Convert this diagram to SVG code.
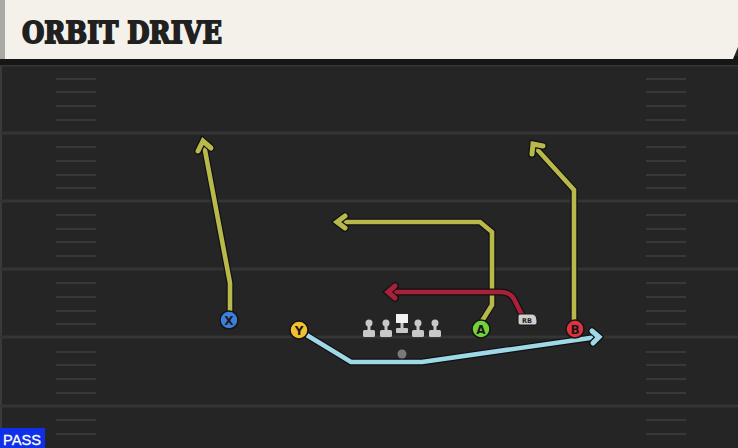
<svg xmlns="http://www.w3.org/2000/svg" width="738" height="448" viewBox="0 0 738 448">
<style>
.yard{stroke:#353535;stroke-width:3}
.hash{stroke:#383838;stroke-width:2}
.out{fill:none;stroke:#111;stroke-width:7;stroke-linejoin:miter;stroke-linecap:butt}
.rt{fill:none;stroke-width:4.6;stroke-linejoin:miter;stroke-linecap:butt}
.ho{fill:none;stroke:#111;stroke-width:7.5;stroke-linejoin:miter;stroke-linecap:round}
.hd{fill:none;stroke-width:5;stroke-linejoin:miter;stroke-linecap:round}
.yel{stroke:#b9b84a}
.red{stroke:#a8213a}
.blu{stroke:#9fd8e6}
.pc{stroke:#151515;stroke-width:1.5}
.pl{font-family:"DejaVu Sans",sans-serif;font-weight:bold;font-size:12px;fill:#1a1a1a;text-anchor:middle}
.ol{fill:#c8c8c8}
</style>
<rect x="0" y="0" width="738" height="448" fill="#252525"/>
<rect x="0" y="0" width="2" height="448" fill="#3a3a3a"/>
<g id="field">
<line class="yard" x1="0" y1="65" x2="738" y2="65"/>
<line class="yard" x1="0" y1="133" x2="738" y2="133"/>
<line class="yard" x1="0" y1="201" x2="738" y2="201"/>
<line class="yard" x1="0" y1="269" x2="738" y2="269"/>
<line class="yard" x1="0" y1="337" x2="738" y2="337"/>
<line class="yard" x1="0" y1="406" x2="738" y2="406"/>
<g id="hashL">
<line class="hash" x1="56" y1="79" x2="96" y2="79"/>
<line class="hash" x1="56" y1="92" x2="96" y2="92"/>
<line class="hash" x1="56" y1="106" x2="96" y2="106"/>
<line class="hash" x1="56" y1="120" x2="96" y2="120"/>
<line class="hash" x1="56" y1="147" x2="96" y2="147"/>
<line class="hash" x1="56" y1="161" x2="96" y2="161"/>
<line class="hash" x1="56" y1="175" x2="96" y2="175"/>
<line class="hash" x1="56" y1="188" x2="96" y2="188"/>
<line class="hash" x1="56" y1="215" x2="96" y2="215"/>
<line class="hash" x1="56" y1="229" x2="96" y2="229"/>
<line class="hash" x1="56" y1="242" x2="96" y2="242"/>
<line class="hash" x1="56" y1="256" x2="96" y2="256"/>
<line class="hash" x1="56" y1="283" x2="96" y2="283"/>
<line class="hash" x1="56" y1="297" x2="96" y2="297"/>
<line class="hash" x1="56" y1="311" x2="96" y2="311"/>
<line class="hash" x1="56" y1="324" x2="96" y2="324"/>
<line class="hash" x1="56" y1="352" x2="96" y2="352"/>
<line class="hash" x1="56" y1="365" x2="96" y2="365"/>
<line class="hash" x1="56" y1="379" x2="96" y2="379"/>
<line class="hash" x1="56" y1="393" x2="96" y2="393"/>
<line class="hash" x1="56" y1="420" x2="96" y2="420"/>
<line class="hash" x1="56" y1="434" x2="96" y2="434"/>
</g>
<use href="#hashL" x="590"/>
</g>
<g id="header">
<rect x="0" y="56" width="738" height="9" fill="#161616"/>
<polygon points="0,0 738,0 738,47 733,59 0,59" fill="#f4f1ea"/>
<rect x="0" y="0" width="5" height="59" fill="#a9aaa6"/>
<text x="22" y="43" font-family="'DejaVu Serif',serif" font-weight="bold" font-size="29" fill="#202020" stroke="#202020" stroke-width="1.8" stroke-linejoin="miter" textLength="200" lengthAdjust="spacingAndGlyphs">ORBIT DRIVE</text>
</g>
<g id="connectors">
<g id="route-x">
<polyline class="out" points="230,312 230,283 204,145"/>
<polyline class="rt yel" points="230,312 230,283 204,145"/>
<polyline class="ho" points="198,151 203,141 211,148"/>
<polyline class="hd yel" points="198,151 203,141 211,148"/>
</g>
<g id="route-a">
<polyline class="out" points="482,321 492,305 492,232 480,222 339,222"/>
<polyline class="rt yel" points="482,321 492,305 492,232 480,222 339,222"/>
<polyline class="ho" points="345,216 337,222 345,228"/>
<polyline class="hd yel" points="345,216 337,222 345,228"/>
</g>
<g id="route-b">
<polyline class="out" points="574,321 574,190 535,147"/>
<polyline class="rt yel" points="574,321 574,190 535,147"/>
<polyline class="ho" points="532,154 533,144 543,146"/>
<polyline class="hd yel" points="532,154 533,144 543,146"/>
</g>
<g id="route-rb">
<path class="out" d="M522,315 L514,299 Q510,292 500,292 L390,292"/>
<path class="rt red" d="M522,315 L514,299 Q510,292 500,292 L390,292"/>
<polyline class="ho" points="395,286 388,292 395,298"/>
<polyline class="hd red" points="395,286 388,292 395,298"/>
</g>
<g id="route-y">
<polyline class="out" points="305,334 351,362 422,362 597,337"/>
<polyline class="rt blu" points="305,334 351,362 422,362 597,337"/>
<polyline class="ho" points="592,331 599,337 593,343"/>
<polyline class="hd blu" points="592,331 599,337 593,343"/>
</g>
</g>
<g id="line">
<g id="lt1"><circle cx="369" cy="323" r="3.5" class="ol"/><rect x="367.5" y="323" width="3" height="8" class="ol"/><rect x="363" y="330" width="12" height="7" rx="1.5" class="ol"/></g>
<g id="lg1"><circle cx="386" cy="323" r="3.5" class="ol"/><rect x="384.5" y="323" width="3" height="8" class="ol"/><rect x="380" y="330" width="12" height="7" rx="1.5" class="ol"/></g>
<g id="c"><rect x="396" y="314" width="12" height="9" fill="#f2f2f2"/><rect x="400.5" y="323" width="3" height="6" class="ol"/><rect x="396" y="328" width="12" height="5" rx="1" class="ol"/></g>
<g id="rg1"><circle cx="418" cy="323" r="3.5" class="ol"/><rect x="416.5" y="323" width="3" height="8" class="ol"/><rect x="412" y="330" width="12" height="7" rx="1.5" class="ol"/></g>
<g id="rt1"><circle cx="435" cy="323" r="3.5" class="ol"/><rect x="433.5" y="323" width="3" height="8" class="ol"/><rect x="429" y="330" width="12" height="7" rx="1.5" class="ol"/></g>
</g>
<g id="qb"><circle cx="402" cy="354" r="4.5" fill="#7a7a7a"/></g>
<g id="x"><circle cx="229" cy="320" r="9" fill="#3f7fdc" class="pc"/><text x="229" y="324.5" class="pl">X</text></g>
<g id="y"><circle cx="299" cy="330" r="9" fill="#f3c12f" class="pc"/><text x="299" y="334.5" class="pl">Y</text></g>
<g id="a"><circle cx="481" cy="329" r="9" fill="#74d13a" class="pc"/><text x="481" y="333.5" class="pl">A</text></g>
<g id="b"><circle cx="575" cy="329" r="9" fill="#e0323e" class="pc"/><text x="575" y="333.5" class="pl">B</text></g>
<g id="rb"><path d="M520,314 L533,314 Q537,315 537,320 L537,323 Q537,325 535,325 L520,325 Q518,325 518,323 L518,316 Q518,314 520,314 Z" fill="#cfcfcf" stroke="#151515" stroke-width="1"/><text x="527" y="322.5" font-family="'DejaVu Sans',sans-serif" font-weight="bold" font-size="6.5" fill="#222" text-anchor="middle">RB</text></g>
<g id="pass"><rect x="0" y="428" width="45" height="20" fill="#0f2fe8"/><text x="3" y="444.5" font-family="'Liberation Sans',sans-serif" font-size="15" fill="#ffffff" stroke="#ffffff" stroke-width="0.3" textLength="38" lengthAdjust="spacingAndGlyphs">PASS</text></g>
</svg>
